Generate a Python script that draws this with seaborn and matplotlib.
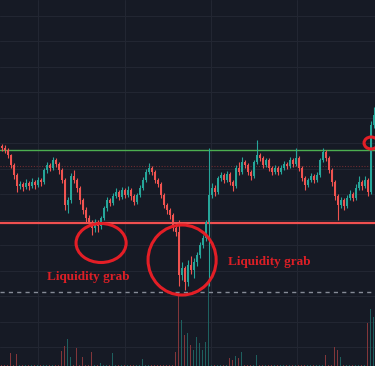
import numpy as np
import pandas as pd
import matplotlib
matplotlib.use("Agg")
import matplotlib.pyplot as plt
import seaborn as sns
from matplotlib.patches import Ellipse

opens = [220,218,216,211,201,191,180,182,179,183,
         180,184,181,186,184,196,201,198,206,202,
         196,186,161,166,190,186,178,166,156,148,
         144,138,144,140,148,158,166,163,170,174,
         169,176,171,176,170,164,171,178,186,194,
         198,194,186,182,171,161,156,151,138,134,
         91,98,84,101,96,104,111,121,128,144,
         171,178,174,188,191,186,192,184,180,198,
         194,204,201,194,190,204,211,208,201,206,
         198,194,198,194,198,202,200,206,202,208,
         198,188,181,186,190,186,191,206,214,208,
         196,184,170,161,166,160,168,172,168,178,
         184,180,186,174,241]
closes = [218,216,211,201,191,180,182,179,183,180,
          184,181,186,184,196,201,198,206,202,196,
          186,161,166,190,186,178,166,156,148,144,
          138,144,140,148,158,166,163,170,174,169,
          176,171,176,170,164,171,178,186,194,198,
          194,186,182,171,161,156,151,138,134,91,
          98,84,101,96,104,111,121,128,144,171,
          178,174,188,191,186,192,184,180,198,194,
          204,201,194,190,204,211,208,201,206,198,
          194,198,194,198,202,200,206,202,208,198,
          188,181,186,190,186,191,206,214,208,196,
          184,170,161,166,160,168,172,168,178,184,
          180,186,174,241,251]
highs = [222,221,218,212,203,193,185,184,187,185,
         188,186,189,188,198,204,203,209,208,204,
         198,188,169,193,196,188,180,168,159,151,
         146,147,146,150,160,169,168,173,178,176,
         179,178,180,178,172,173,181,189,197,203,
         200,196,188,184,173,163,158,153,141,146,
         104,100,106,110,108,114,124,131,146,218,
         183,181,190,194,193,195,194,186,201,204,
         209,206,203,196,206,226,213,210,208,208,
         200,201,200,201,205,204,209,208,218,210,
         200,190,188,193,192,194,208,218,216,210,
         198,186,172,169,168,171,176,174,182,190,
         186,190,188,245,259]
lows = [215,213,208,198,187,174,177,175,177,176,
        178,177,179,180,182,193,195,196,199,192,
        183,156,153,163,183,174,162,152,144,140,
        131,134,134,137,146,155,160,161,168,166,
        167,168,169,166,161,162,169,176,184,192,
        191,183,179,168,158,152,147,135,130,80,
        86,76,80,92,88,100,108,118,125,80,
        168,170,172,185,183,184,181,175,178,191,
        192,198,191,186,188,202,205,198,199,195,
        191,192,191,192,196,197,198,199,200,195,
        185,176,179,184,183,184,189,204,205,193,
        180,166,146,158,156,158,166,165,166,176,
        176,178,170,172,238]
volumes = [1,1,1,13,1,12,1,1,1,1,
           1,1,1,1,1,1,1,1,1,1,
           15,20,27,9,1,18,1,9,1,1,
           14,1,1,3,1,1,1,13,1,1,
           1,1,1,1,1,1,1,7,1,1,
           1,1,1,1,1,1,1,1,14,73,
           46,31,33,21,16,29,23,16,24,83,
           1,1,1,1,1,1,8,6,10,8,
           14,1,1,1,1,11,1,1,1,1,
           1,1,1,1,1,1,1,1,1,1,
           1,1,1,1,1,1,1,1,11,1,
           1,19,16,9,1,1,1,1,1,1,
           1,1,43,57,49]

resistance = 216
support = 143
dotted_level = 200
dashed_level = 74
label_text = "Liquidity grab"

BG = "#161a25"
UP = "#26a69a"
DOWN = "#ef5350"
UP_V = "#1e605f"
DOWN_V = "#82363a"
GRID = "#222632"

sns.set_theme(style="dark")
plt.rcParams["font.family"] = ["Liberation Serif", "DejaVu Serif"]

n = len(closes)
idx = np.arange(n)
o = np.array(opens, float)
c = np.array(closes, float)
h = np.array(highs, float)
l = np.array(lows, float)
up = c >= o

fig = plt.figure(figsize=(3.75, 3.66), dpi=100, facecolor=BG)
axv = fig.add_axes([0, 0, 1, 1])
axv.set_facecolor(BG)

df = pd.DataFrame({"idx": idx, "vol": volumes,
                   "dir": np.where(up, "up", "down")})
sns.barplot(data=df, x="idx", y="vol", hue="dir",
            palette={"up": UP_V, "down": DOWN_V},
            native_scale=True, dodge=False, width=0.5, errorbar=None,
            legend=False, saturation=1, linewidth=0, ax=axv)
axv.set_ylim(0, 366)
axv.set_xlim(-0.5, n - 0.5)
axv.set_xticks([12.2, 41.0, 69.8, 98.6])
axv.set_yticks(np.arange(19, 366, 25.5))
axv.grid(True, color=GRID, lw=0.8)
axv.tick_params(left=False, bottom=False, labelleft=False, labelbottom=False)
axv.set_xlabel("")
axv.set_ylabel("")
for s in axv.spines.values():
    s.set_visible(False)

ax = fig.add_axes([0, 0, 1, 1], sharex=axv)
ax.patch.set_visible(False)
colors = np.where(up, UP, DOWN)
ax.vlines(idx, l, h, colors=colors, lw=0.8, zorder=3)
body = np.maximum(np.abs(c - o), 0.8)
ax.bar(idx, body, bottom=np.minimum(o, c), width=0.6, color=colors,
       linewidth=0, zorder=4)

ax.axhline(resistance, color="#4caf50", lw=1.0, zorder=2)
ax.axhline(support, color="#f05050", lw=1.6, zorder=2)
ax.axhline(dotted_level, color="#6e2c31", lw=0.8, ls=(0, (1, 1.5)), zorder=1)
ax.axhline(dashed_level, color="#868b97", lw=1.0, ls=(0, (3, 3)), zorder=1)

RED = "#e31e26"
for (cx, cy, w, hh) in [(33.2, 123, 16.7, 39), (60.2, 106, 22.7, 70),
                        (123.2, 223, 4.7, 12)]:
    ax.add_patch(Ellipse((cx, cy), w, hh, fill=False, ec=RED, lw=2.2, zorder=5))

ax.text(15.2, 86, label_text, color="#dc1f26", fontsize=9.5,
        fontweight="bold", va="baseline", ha="left", zorder=6)
ax.text(75.5, 101, label_text, color="#dc1f26", fontsize=9.5,
        fontweight="bold", va="baseline", ha="left", zorder=6)

ax.set_ylim(0, 366)
ax.set_xlim(-0.5, n - 0.5)
ax.axis("off")

fig.savefig("out.png", dpi=100, facecolor=BG)
